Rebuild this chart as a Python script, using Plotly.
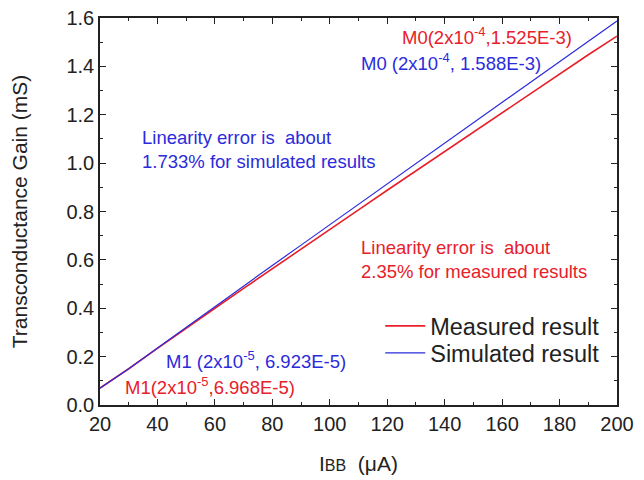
import plotly.graph_objects as go

ibb = [20, 30, 40, 50, 60, 70, 80, 90, 100, 110, 120, 130, 140, 150, 160, 170, 180, 190, 200]
measured = [0.070, 0.150, 0.234, 0.318, 0.400, 0.482, 0.564, 0.645, 0.726, 0.807,
            0.888, 0.968, 1.049, 1.129, 1.210, 1.290, 1.370, 1.448, 1.525]
simulated = [0.069, 0.150, 0.236, 0.322, 0.407, 0.492, 0.577, 0.661, 0.745, 0.829,
             0.913, 0.997, 1.081, 1.165, 1.250, 1.334, 1.419, 1.503, 1.588]
x_ticks = [20, 40, 60, 80, 100, 120, 140, 160, 180, 200]
y_ticks = [0.0, 0.2, 0.4, 0.6, 0.8, 1.0, 1.2, 1.4, 1.6]

RED = "#e8202a"
BLUE = "#2b2bdc"
FONT = "Liberation Sans, Arial, sans-serif"

fig = go.Figure()
fig.add_trace(go.Scatter(x=ibb, y=measured, mode="lines", name="Measured result",
                         line=dict(color=RED, width=1.6), legend="legend", showlegend=True))
fig.add_trace(go.Scatter(x=ibb, y=simulated, mode="lines", name="Simulated result",
                         line=dict(color=BLUE, width=1.2), legend="legend2", showlegend=True))

annots = [
    dict(x=154.7, y=1.524, text="M0(2x10<sup>-4</sup>,1.525E-3)", color=RED, xanchor="center"),
    dict(x=142.2, y=1.418, text="M0 (2x10<sup>-4</sup>, 1.588E-3)", color=BLUE, xanchor="center"),
    dict(x=34.0, y=1.057, text="Linearity error is  about<br>1.733% for simulated results", color=BLUE, xanchor="left"),
    dict(x=110.0, y=0.600, text="Linearity error is  about<br>2.35% for measured results", color=RED, xanchor="left"),
    dict(x=42.3, y=0.188, text="M1 (2x10<sup>-5</sup>, 6.923E-5)", color=BLUE, xanchor="left"),
    dict(x=28.0, y=0.080, text="M1(2x10<sup>-5</sup>,6.968E-5)", color=RED, xanchor="left"),
]
for a in annots:
    fig.add_annotation(x=a["x"], y=a["y"], text=a["text"], showarrow=False,
                       xanchor=a["xanchor"], yanchor="middle", align="left",
                       font=dict(color=a["color"], size=18.5, family=FONT))

axis_common = dict(showline=True, linecolor="#222", linewidth=1.5, mirror="ticks",
                   ticks="inside", ticklen=6, tickwidth=1.3, tickcolor="#222",
                   showgrid=False, zeroline=False, ticklabeloverflow="allow",
                   tickfont=dict(size=20, color="#222", family=FONT))

fig.update_xaxes(range=[20, 200], tickvals=x_ticks,
                 minor=dict(dtick=10, tick0=20, ticks="inside", ticklen=3, tickcolor="#222"),
                 title=dict(text="I<span style='font-size:16px'>BB</span>  (\u03bcA)",
                            font=dict(size=21, color="#222", family=FONT), standoff=23),
                 automargin=False, **axis_common)
fig.update_yaxes(range=[0, 1.6], tickvals=y_ticks, tickformat=".1f",
                 minor=dict(dtick=0.1, tick0=0, ticks="inside", ticklen=3, tickcolor="#222"),
                 title=dict(text="Transconductance Gain (mS)",
                            font=dict(size=21, color="#222", family=FONT), standoff=34),
                 automargin=False, **axis_common)

legend_common = dict(xanchor="left", yanchor="middle", bgcolor="rgba(0,0,0,0)",
                     font=dict(size=23.5, color="#222", family=FONT), itemwidth=40)

fig.update_layout(
    width=636, height=472,
    margin=dict(l=92, r=27, t=10, b=75),
    plot_bgcolor="white", paper_bgcolor="white",
    font=dict(family=FONT, color="#222"),
    showlegend=True,
    legend=dict(x=0.542, y=0.204, **legend_common),
    legend2=dict(x=0.542, y=0.134, **legend_common),
)

fig.write_html("out.html")
